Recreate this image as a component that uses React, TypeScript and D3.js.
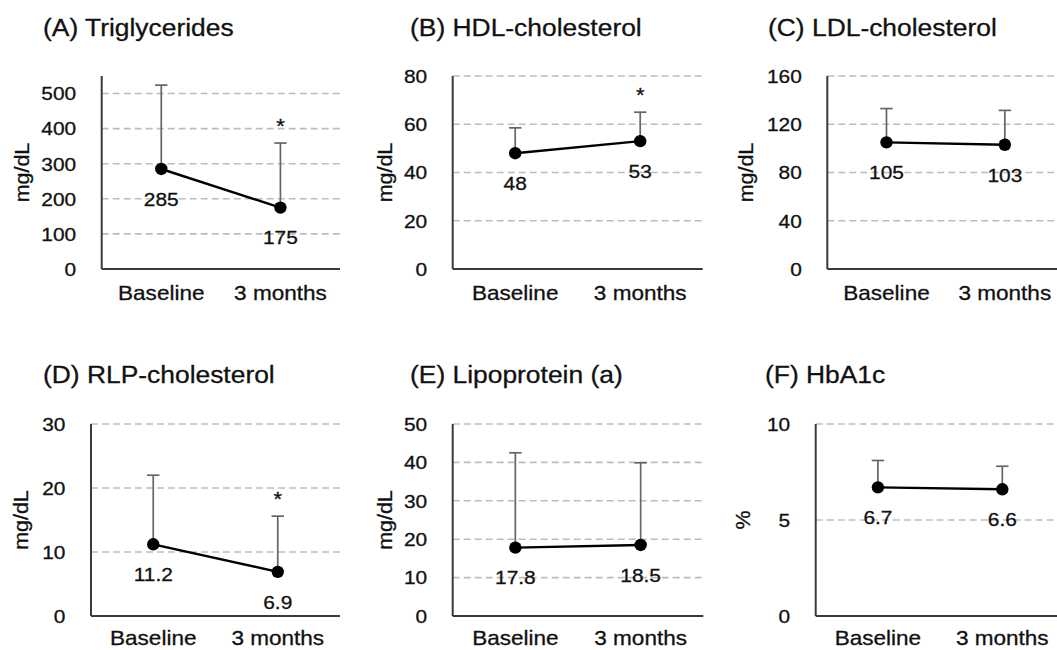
import React from "react";
import * as d3 from "d3";

// categories on the x axis, shared by all six panels
const categories = ["Baseline", "3 months"];

const titles = [
  "(A) Triglycerides",
  "(B) HDL-cholesterol",
  "(C) LDL-cholesterol",
  "(D) RLP-cholesterol",
  "(E) Lipoprotein (a)",
  "(F) HbA1c"
];
const units = ["mg/dL", "mg/dL", "mg/dL", "mg/dL", "mg/dL", "%"];

// mean values, baseline and 3 months
const means = [
  [285, 175],
  [48, 53],
  [105, 103],
  [11.2, 6.9],
  [17.8, 18.5],
  [6.7, 6.6]
];
// top of the error bar (mean + SD)
const upper = [
  [524, 359],
  [58.5, 65],
  [133, 131.5],
  [22, 15.6],
  [42.5, 39.9],
  [8.1, 7.8]
];
// * = significant vs baseline
const significant = [
  [false, true],
  [false, true],
  [false, false],
  [false, true],
  [false, false],
  [false, false]
];
const yMax = [550, 80, 160, 30, 50, 10];
const yTicks = [
  [0, 100, 200, 300, 400, 500],
  [0, 20, 40, 60, 80],
  [0, 40, 80, 120, 160],
  [0, 10, 20, 30],
  [0, 10, 20, 30, 40, 50],
  [0, 5, 10]
];

// where each panel sits on the page
const layout = [
  { x0: 101.7, x1: 340, top: 76, bottom: 269, titleX: 43, titleY: 36, unitX: 22, catY: 300 },
  { x0: 452.7, x1: 702.7, top: 76, bottom: 269, titleX: 410, titleY: 36, unitX: 385, catY: 300 },
  { x0: 827.3, x1: 1064, top: 76, bottom: 269, titleX: 768, titleY: 36, unitX: 746.7, catY: 300 },
  { x0: 91, x1: 340, top: 424, bottom: 616, titleX: 43, titleY: 382.7, unitX: 21.7, catY: 644.5 },
  { x0: 452.7, x1: 703.3, top: 424, bottom: 616, titleX: 410, titleY: 382.7, unitX: 385, catY: 644.5 },
  { x0: 815.7, x1: 1064.5, top: 424, bottom: 616, titleX: 765, titleY: 382.7, unitX: 743.3, catY: 644.5 }
];

const FONT = "'Liberation Sans', Arial, sans-serif";
const SX = 1.1; // the glyphs in the picture are a bit wider than Arial

function Label({ x, y, size, anchor = "start", rotate = 0, children }: any) {
  const tr = `translate(${x},${y})` + (rotate ? ` rotate(${rotate})` : "") + ` scale(${SX},1)`;
  return (
    <text
      transform={tr}
      fontSize={size}
      textAnchor={anchor}
      fontFamily={FONT}
      fill="#111"
      stroke="#111"
      strokeWidth={0.3}
    >
      {children}
    </text>
  );
}

function Panel({ i }: { i: number }) {
  const L = layout[i];
  const x = d3.scalePoint<string>().domain(categories).range([L.x0, L.x1]).padding(0.5);
  const y = d3.scaleLinear().domain([0, yMax[i]]).range([L.bottom, L.top]);
  const pts = categories.map((c, j) => [x(c) as number, y(means[i][j])] as [number, number]);
  const line = d3.line()(pts) as string;
  const mid = (L.top + L.bottom) / 2;

  return (
    <g>
      <Label x={L.titleX} y={L.titleY} size={24}>
        {titles[i]}
      </Label>

      {yTicks[i].filter(t => t > 0).map(t => (
        <line
          key={t}
          x1={L.x0}
          x2={L.x1}
          y1={y(t)}
          y2={y(t)}
          stroke="#bdbdbd"
          strokeWidth={1.6}
          strokeDasharray="7,4"
        />
      ))}
      {yTicks[i].map(t => (
        <Label key={"t" + t} x={L.x0 - 25.5} y={y(t) + 6.8} size={19} anchor="end">
          {t}
        </Label>
      ))}
      <Label x={L.unitX + 6.5} y={mid} size={19.5} anchor="middle" rotate={-90}>
        {units[i]}
      </Label>

      <line x1={L.x0} x2={L.x0} y1={L.top} y2={L.bottom} stroke="#3a3a3a" strokeWidth={2} />
      <line x1={L.x0} x2={L.x1} y1={L.bottom} y2={L.bottom} stroke="#3a3a3a" strokeWidth={2} />

      {categories.map((c, j) => (
        <g key={c}>
          <line x1={x(c)} x2={x(c)} y1={y(means[i][j])} y2={y(upper[i][j])} stroke="#666" strokeWidth={1.7} />
          <line
            x1={(x(c) as number) - 6.2}
            x2={(x(c) as number) + 6.2}
            y1={y(upper[i][j])}
            y2={y(upper[i][j])}
            stroke="#666"
            strokeWidth={1.7}
          />
        </g>
      ))}

      <path d={line} fill="none" stroke="#000" strokeWidth={2.4} />

      {categories.map((c, j) => (
        <g key={"p" + c}>
          <circle cx={x(c)} cy={y(means[i][j])} r={6.2} fill="#000" />
          <Label x={x(c)} y={y(means[i][j]) + 36.8} size={19} anchor="middle">
            {String(means[i][j])}
          </Label>
          {significant[i][j] && (
            <Label x={x(c)} y={y(upper[i][j]) - 10} size={20} anchor="middle">
              *
            </Label>
          )}
          <Label x={x(c)} y={L.catY} size={20.5} anchor="middle">
            {c}
          </Label>
        </g>
      ))}
    </g>
  );
}

export default function App() {
  return (
    <svg
      width={1057}
      height={650}
      style={{ position: "absolute", left: 0, top: 0, background: "#fff", display: "block" }}
    >
      <rect width={1057} height={650} fill="#fff" />
      {titles.map((_, i) => (
        <Panel key={i} i={i} />
      ))}
    </svg>
  );
}
